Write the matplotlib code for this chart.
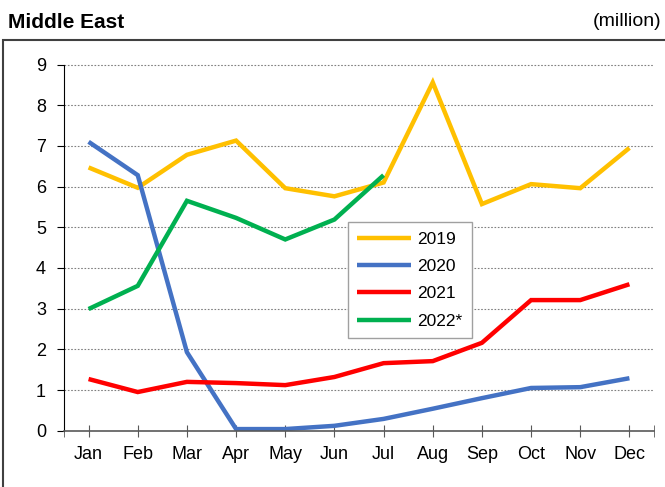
import numpy as np
import matplotlib.pyplot as plt
from matplotlib.patches import Rectangle

plt.rcParams['font.family'] = ['Liberation Sans', 'DejaVu Sans']

months = ['Jan', 'Feb', 'Mar', 'Apr', 'May', 'Jun', 'Jul', 'Aug', 'Sep', 'Oct', 'Nov', 'Dec']
y2019 = [6.47, 5.97, 6.78, 7.13, 5.96, 5.76, 6.10, 8.56, 5.57, 6.06, 5.96, 6.95]
y2020 = [7.10, 6.28, 1.93, 0.04, 0.04, 0.12, 0.29, 0.54, 0.80, 1.05, 1.07, 1.29]
y2021 = [1.27, 0.95, 1.20, 1.17, 1.12, 1.32, 1.66, 1.71, 2.16, 3.21, 3.21, 3.60]
y2022 = [2.99, 3.56, 5.65, 5.23, 4.70, 5.19, 6.28]

series = [
    (y2019, '2019', '#FFC000'),
    (y2020, '2020', '#4472C4'),
    (y2021, '2021', '#FF0000'),
    (y2022, '2022*', '#00B050'),
]

fig = plt.figure(figsize=(6.65, 4.87), dpi=100)
ax = fig.add_axes([64 / 665, 1 - 430.7 / 487, 590 / 665, 366.2 / 487])

# outer frame around the chart
fig.patches.append(Rectangle((3 / 665, -0.02), 1.0, 1 - 40 / 487 + 0.02,
                             transform=fig.transFigure, fill=False,
                             edgecolor='#404040', lw=1.5))

for vals, label, color in series:
    ax.plot(np.arange(len(vals)), vals, color=color, lw=3.2, label=label,
            solid_capstyle='butt', solid_joinstyle='miter')

ax.set_xlim(-0.5, 11.5)
ax.set_ylim(0, 9)
ax.set_yticks(range(10))
ax.set_xticks(range(12))
ax.set_xticklabels(months)
ax.set_xticks([-0.5, 11.5], minor=True)

for y in range(1, 10):
    ax.axhline(y, color='#808080', lw=0.8, ls=(0, (1.5, 1.5)), zorder=0)

for s in ['top', 'right']:
    ax.spines[s].set_visible(False)
ax.spines['left'].set_color('black')
ax.spines['bottom'].set_color('#595959')
ax.spines['bottom'].set_linewidth(1.2)

ax.tick_params(axis='y', direction='out', length=5, labelsize=13, pad=8)
ax.tick_params(axis='x', which='both', direction='inout', length=8,
               color='#595959', labelsize=13, pad=7)

fig.text(8 / 665, 1 - 22 / 487, 'Middle East', fontsize=15, fontweight='bold',
         va='center', ha='left')
fig.text(661 / 665, 1 - 22 / 487, '(million)', fontsize=14, va='center', ha='right')

leg = ax.legend(loc='upper left', bbox_to_anchor=(0.481, 0.570), fontsize=12.5,
                handlelength=3.1, handletextpad=0.35, labelspacing=0.7,
                borderpad=0.55, borderaxespad=0, fancybox=False, framealpha=1,
                edgecolor='#A0A0A0')
leg.get_frame().set_linewidth(1)

fig.savefig('out.png', dpi=100)
